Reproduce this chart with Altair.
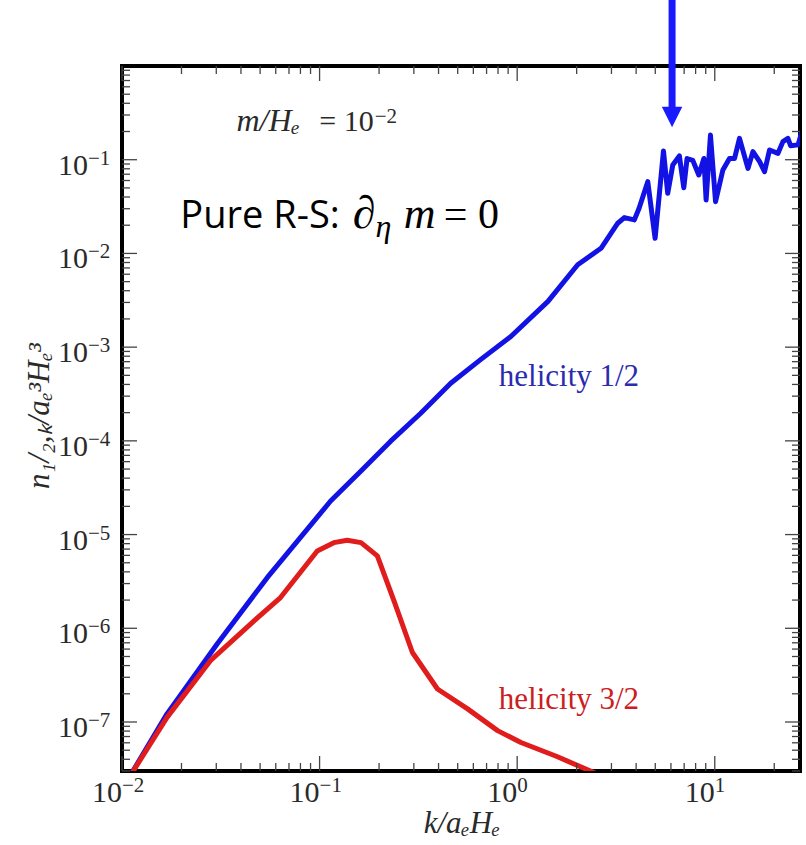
import altair as alt
import pandas as pd

# ---------------- data ----------------
k_half = [0.01064, 0.0169, 0.0303, 0.0543, 0.1137, 0.1615, 0.229, 0.325, 0.461, 0.655,
          0.929, 1.432, 2.024, 2.656, 3.228, 3.486, 3.917, 4.14, 4.58, 4.99,
          5.50, 5.78, 6.13, 6.62, 6.97, 7.24, 7.74, 8.30, 8.81, 9.04,
          9.51, 10.09, 10.99, 11.87, 12.59, 13.34, 14.72, 15.60, 16.87, 17.86,
          18.93, 20.89, 22.13, 23.45, 24.2, 26.4, 27.6, 29.0]
n_half = [2.38e-8, 1.22e-7, 6.79e-7, 3.47e-6, 2.28e-5, 4.75e-5, 9.93e-5, 1.97e-4, 4.11e-4, 7.41e-4,
          1.30e-3, 3.08e-3, 7.57e-3, 1.135e-2, 2.10e-2, 2.41e-2, 2.28e-2, 3.03e-2, 5.83e-2, 1.45e-2,
          0.124, 4.38e-2, 8.78e-2, 0.110, 5.03e-2, 0.103, 9.84e-2, 6.87e-2, 0.103, 3.72e-2,
          0.183, 3.57e-2, 7.76e-2, 0.103, 0.103, 0.169, 8.07e-2, 0.122, 9.52e-2, 7.45e-2,
          0.127, 0.117, 0.156, 0.169, 0.141, 0.144, 0.199, 0.185]

k_three = [0.01064, 0.0169, 0.0280, 0.0447, 0.0634, 0.0973, 0.118, 0.138, 0.162, 0.196,
           0.238, 0.295, 0.395, 0.561, 0.796, 1.045, 1.589, 2.51]
n_three = [2.38e-8, 1.12e-7, 4.51e-7, 1.11e-6, 2.13e-6, 6.68e-6, 8.20e-6, 8.69e-6, 8.20e-6, 5.92e-6,
           1.96e-6, 5.52e-7, 2.25e-7, 1.38e-7, 8.09e-8, 6.04e-8, 4.28e-8, 2.82e-8]

series_names = ["helicity 1/2", "helicity 3/2"]

x_major = [0.01, 0.1, 1, 10]
x_major_exp = ["\u22122", "\u22121", "0", "1"]
x_minor = [0.02, 0.03, 0.04, 0.05, 0.06, 0.07, 0.08, 0.09,
           0.2, 0.3, 0.4, 0.5, 0.6, 0.7, 0.8, 0.9,
           2, 3, 4, 5, 6, 7, 8, 9, 20]
y_major = [1e-7, 1e-6, 1e-5, 1e-4, 1e-3, 1e-2, 1e-1]
y_major_exp = ["\u22127", "\u22126", "\u22125", "\u22124", "\u22123", "\u22122", "\u22121"]
minor_mantissas = [2, 3, 4, 5, 6, 7, 8, 9]
minor_decades = [1e-8, 1e-7, 1e-6, 1e-5, 1e-4, 1e-3, 1e-2, 1e-1]
y_minor = [m * d for d in minor_decades for m in minor_mantissas if m * d >= 3e-8]

arrow_k = [6.08]

# ---------------- styling ----------------
W, H = 678, 705
SERIF = "Liberation Serif"
SANS = "Open Sans"
BLUE = "#1212e4"
RED = "#e01c1c"
ARROW = "#1a1aff"
LBL = "#2a2a2a"
TICK = "#444444"

xs = alt.Scale(type="log", domain=[0.01, 27], nice=False)
ys = alt.Scale(type="log", domain=[3e-8, 1], nice=False)


def X():
    return alt.X("k:Q", scale=xs, axis=None)


def Y():
    return alt.Y("n:Q", scale=ys, axis=None)


df_half = pd.DataFrame({"k": k_half, "n": n_half, "series": series_names[0]})
df_three = pd.DataFrame({"k": k_three, "n": n_three, "series": series_names[1]})

line_half = alt.Chart(df_half).mark_line(color=BLUE, strokeWidth=5, clip=True, strokeJoin="round").encode(x=X(), y=Y())
line_three = alt.Chart(df_three).mark_line(color=RED, strokeWidth=5, clip=True, strokeJoin="round").encode(x=X(), y=Y())

layers = [line_half, line_three]

# ticks pointing inward on all four sides
for vals, ln in [(x_major, 15), (x_minor, 8)]:
    d = pd.DataFrame({"k": vals})
    layers.append(alt.Chart(d).mark_rule(color=TICK, strokeWidth=1.3).encode(
        x=X(), y=alt.value(H), y2=alt.value(H - ln)))
    layers.append(alt.Chart(d).mark_rule(color=TICK, strokeWidth=1.3).encode(
        x=X(), y=alt.value(0), y2=alt.value(ln)))
for vals, ln in [(y_major, 15), (y_minor, 8)]:
    d = pd.DataFrame({"n": vals})
    layers.append(alt.Chart(d).mark_rule(color=TICK, strokeWidth=1.3).encode(
        y=Y(), x=alt.value(0), x2=alt.value(ln)))
    layers.append(alt.Chart(d).mark_rule(color=TICK, strokeWidth=1.3).encode(
        y=Y(), x=alt.value(W), x2=alt.value(W - ln)))

# tick labels  10^e
xl = pd.DataFrame({"k": x_major, "exp": x_major_exp})
layers.append(alt.Chart(xl).mark_text(text="10", font=SERIF, fontSize=30, align="right",
                                      baseline="alphabetic", color=LBL).encode(x=X(), y=alt.value(H + 31)))
layers.append(alt.Chart(xl).mark_text(font=SERIF, fontSize=21, align="left",
                                      baseline="alphabetic", color=LBL).encode(x=X(), y=alt.value(H + 21), text="exp:N"))
yl = pd.DataFrame({"n": y_major, "exp": y_major_exp})
layers.append(alt.Chart(yl).mark_text(text="10", font=SERIF, fontSize=30, align="right",
                                      baseline="alphabetic", color=LBL, dy=15).encode(y=Y(), x=alt.value(-34)))
layers.append(alt.Chart(yl).mark_text(font=SERIF, fontSize=21, align="left",
                                      baseline="alphabetic", color=LBL, dy=5).encode(y=Y(), x=alt.value(-34), text="exp:N"))

# axis titles
layers.append(alt.Chart(pd.DataFrame({"t": ["k/a\u2091H\u2091"]})).mark_text(
    font=SERIF, fontStyle="italic", fontSize=31, align="center", baseline="alphabetic", color=LBL
).encode(x=alt.value(340), y=alt.value(H + 62), text="t:N"))
layers.append(alt.Chart(pd.DataFrame({"t": ["n\u2081/\u2082,\u2096/a\u2091\u00b3H\u2091\u00b3"]})).mark_text(
    font=SERIF, fontStyle="italic", fontSize=31, align="center", baseline="middle", angle=270, color=LBL
).encode(x=alt.value(-82), y=alt.value(350), text="t:N"))

# annotations (anchored in data coordinates)
def label(k, n, text, **kw):
    d = pd.DataFrame({"k": [k], "n": [n], "t": [text]})
    return alt.Chart(d).mark_text(baseline="alphabetic", **kw).encode(x=X(), y=Y(), text="t:N")

layers.append(label(0.0795, 0.204, "m/H\u2091", font=SERIF, fontStyle="italic", fontSize=32, align="right", color=LBL))
layers.append(label(0.188, 0.204, "= 10", font=SERIF, fontSize=30, align="right", color=LBL))
layers.append(label(0.190, 0.248, "\u22122", font=SERIF, fontSize=21, align="left", color=LBL))

layers.append(label(0.01974, 0.0189, "Pure R-S:", font=SANS, fontSize=38, align="left", color="#000000"))
layers.append(label(0.147, 0.0189, "\u2202", font=SERIF, fontStyle="italic", fontSize=46, align="left", color="#000000"))
layers.append(label(0.192, 0.0150, "\u03b7", font=SERIF, fontStyle="italic", fontSize=32, align="left", color="#000000"))
layers.append(label(0.2666, 0.0189, "m", font=SERIF, fontStyle="italic", fontSize=44, align="left", color="#000000"))
layers.append(label(0.425, 0.0189, "= 0", font=SERIF, fontSize=42, align="left", color="#000000"))

layers.append(label(0.807, 3.83e-4, "helicity 1/2", font=SERIF, fontSize=31, align="left", color="#2b2bb0"))
layers.append(label(0.807, 1.39e-7, "helicity 3/2", font=SERIF, fontSize=31, align="left", color="#cc2020"))

# blue arrow
da = pd.DataFrame({"k": arrow_k})
layers.append(alt.Chart(da).mark_rule(color=ARROW, strokeWidth=7).encode(x=X(), y=alt.value(-66), y2=alt.value(43)))
layers.append(alt.Chart(da).mark_point(shape="M-1,-1L1,-1L0,1Z", size=420, filled=True, opacity=1,
                                       color=ARROW, strokeWidth=0).encode(x=X(), y=alt.value(51)))

chart = alt.layer(*layers).properties(
    width=W, height=H,
    autosize=alt.AutoSizeParams(type="none"),
    padding={"left": 122, "top": 66, "right": 6, "bottom": 74},
    background="white",
).configure_view(stroke="black", strokeWidth=4)

chart.save("out.html", embed_options={"renderer": "svg", "actions": False})
